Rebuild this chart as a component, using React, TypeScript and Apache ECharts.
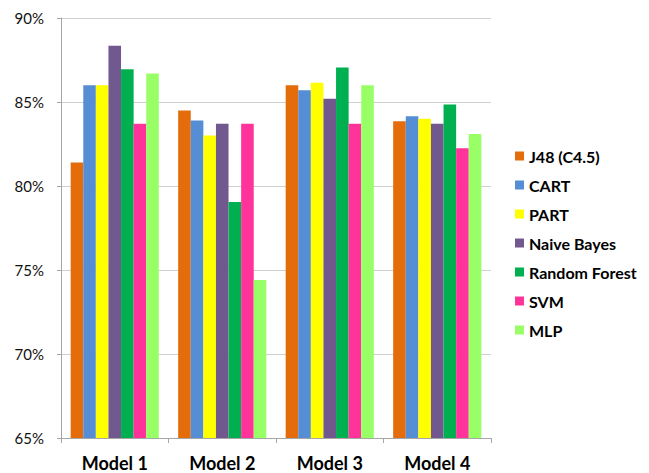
import React, { useEffect, useRef } from "react";
import * as echarts from "echarts";

// Accuracy (%) of each classifier on the four feature models
const categories = ["Model 1", "Model 2", "Model 3", "Model 4"];
const seriesNames = ["J48 (C4.5)", "CART", "PART", "Naive Bayes", "Random Forest", "SVM", "MLP"];
const j48 = [81.4, 84.5, 86.0, 83.85];
const cart = [86.0, 83.9, 85.7, 84.15];
const part = [86.0, 83.0, 86.15, 84.0];
const naiveBayes = [88.35, 83.7, 85.2, 83.7];
const randomForest = [86.95, 79.05, 87.05, 84.85];
const svm = [83.7, 83.7, 83.7, 82.25];
const mlp = [86.7, 74.4, 86.0, 83.1];
const colors = ["#E46C0A", "#558ED5", "#FFFF00", "#71588F", "#00B050", "#FF3399", "#99FF66"];
const yTicks = [65, 70, 75, 80, 85, 90];

const seriesValues = [j48, cart, part, naiveBayes, randomForest, svm, mlp];

export default function App() {
  const ref = useRef<HTMLDivElement>(null);

  useEffect(() => {
    if (!ref.current) return;
    const chart = echarts.init(ref.current, null, { renderer: "svg" });
    const font = "Lato, 'Open Sans', sans-serif";
    chart.setOption({
      animation: false,
      backgroundColor: "#ffffff",
      color: colors,
      grid: { left: 61, right: 158, top: 18, bottom: 35, containLabel: false },
      legend: {
        orient: "vertical",
        left: 515,
        top: 147,
        padding: 0,
        itemWidth: 9,
        itemHeight: 9,
        itemGap: 11,
        icon: "rect",
        data: seriesNames,
        textStyle: { fontFamily: font, fontWeight: "bold", fontSize: 16, color: "#000", lineHeight: 18 },
      },
      xAxis: {
        type: "category",
        data: categories,
        axisLine: { lineStyle: { color: "#A6A6A6", width: 1 } },
        axisTick: { show: true, length: 5, lineStyle: { color: "#A6A6A6" } },
        axisLabel: { fontFamily: font, fontWeight: "bold", fontSize: 18, color: "#000", margin: 16 },
      },
      yAxis: {
        type: "value",
        min: yTicks[0],
        max: yTicks[yTicks.length - 1],
        interval: 5,
        axisLine: { show: true, lineStyle: { color: "#A6A6A6", width: 1 } },
        axisTick: { show: true, length: 4, lineStyle: { color: "#A6A6A6" } },
        splitLine: { lineStyle: { color: "#D0D0D0", width: 1.2 } },
        axisLabel: { fontFamily: font, fontSize: 15, color: "#111", margin: 17, formatter: (v: number) => `${v}%` },
      },
      series: seriesNames.map((name, i) => ({
        name,
        type: "bar",
        data: seriesValues[i],
        barGap: "0%",
        barCategoryGap: "18%",
        itemStyle: { color: colors[i] },
      })),
    });
    return () => chart.dispose();
  }, []);

  return <div ref={ref} style={{ width: 649, height: 473, position: "absolute", left: 0, top: 0 }} />;
}
